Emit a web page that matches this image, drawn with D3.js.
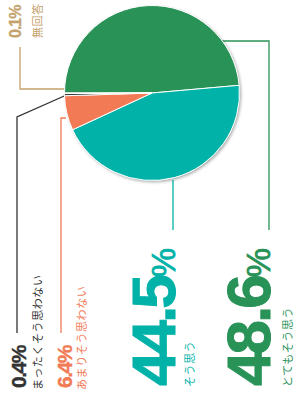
<!DOCTYPE html>
<html>
<head>
<meta charset="utf-8">
<script src="https://cdn.jsdelivr.net/npm/d3@7"></script>
<style>
body { margin: 0; background: #fff; }
svg { display: block; }
</style>
</head>
<body>
<div id="chart"></div>
<script>
var w = 295;
var h = 398;

// data
var categories = ["とてもそう思う", "そう思う", "あまりそう思わない", "まったくそう思わない", "無回答"];
var values = [48.6, 44.5, 6.4, 0.4, 0.1];
var valueLabels = ["48.6", "44.5", "6.4", "0.4", "0.1"];

var colour = d3.scaleOrdinal()
    .domain(categories)
    .range(["#289257", "#00b2a8", "#f27a55", "#333333", "#c4a26c"]);

// layout, in the sideways frame (x runs up the page, y runs right)
var layout = [
    { num: [12, 270], numSize: 62, pctSize: 33, pctStroke: 0.8, ls: -3, heavy: 1, lab: [11, 292], line: [[357, 222], [357, 269], [168, 269]] },
    { num: [12, 175], numSize: 62, pctSize: 33, pctStroke: 0.8, ls: -3, heavy: 1, lab: [11, 194], line: [[218, 173], [168, 173]] },
    { num: [10, 72], numSize: 21, pctSize: 21, pctStroke: 0, ls: -1.5, heavy: 0.4, lab: [8, 86], line: [[280, 66], [280, 61], [65, 61]] },
    { num: [10, 26], numSize: 21, pctSize: 21, pctStroke: 0, ls: -1.5, heavy: 0.4, lab: [8, 42], line: [[305, 71], [281, 17], [65, 17]] },
    { num: [360, 21], numSize: 16, pctSize: 16, pctStroke: 0, ls: -1, heavy: 0.3, lab: [360, 42], line: [[309, 66], [309, 20], [351, 20]] }
];

var cx = 305, cy = 152, radius = 87.5;

var svg = d3.select("#chart")
    .append("svg")
    .attr("width", w)
    .attr("height", h);

var defs = svg.append("defs");
var shadow = defs.append("filter")
    .attr("id", "pieShadow")
    .attr("x", "-20%").attr("y", "-20%")
    .attr("width", "140%").attr("height", "140%");
shadow.append("feDropShadow")
    .attr("dx", -1.5)
    .attr("dy", 1.5)
    .attr("stdDeviation", 1.5)
    .attr("flood-color", "#000")
    .attr("flood-opacity", 0.35);

// the whole chart is turned on its side
var g = svg.append("g")
    .attr("transform", "translate(0," + h + ") rotate(-90)");

var line = d3.line();

g.append("g")
    .attr("class", "leaders")
    .selectAll("path")
    .data(categories)
    .enter().append("path")
    .attr("d", function(d, i) { return line(layout[i].line); })
    .attr("fill", "none")
    .attr("stroke", function(d) { return colour(d); })
    .attr("stroke-width", 1.3);

var pie = d3.pie()
    .sort(null)
    .value(function(d) { return d; });

var arc = d3.arc()
    .innerRadius(0)
    .outerRadius(radius);

var pieG = g.append("g")
    .attr("transform", "translate(" + cx + "," + cy + ")");

pieG.append("circle")
    .attr("r", radius)
    .attr("fill", "#fff")
    .attr("filter", "url(#pieShadow)");

pieG.selectAll("path")
    .data(pie(values))
    .enter().append("path")
    .attr("d", arc)
    .attr("fill", function(d, i) { return colour(categories[i]); })
    .attr("stroke", "#fff")
    .attr("stroke-width", 1);

var labels = g.append("g").attr("class", "labels");

categories.forEach(function(cat, i) {
    var L = layout[i];
    var big = L.pctStroke > 0;
    var t = labels.append("text")
        .attr("x", L.num[0])
        .attr("y", L.num[1])
        .attr("fill", colour(cat))
        .style("font-family", "'Liberation Sans', Arial, sans-serif")
        .style("font-weight", "bold");
    t.append("tspan")
        .attr("stroke", colour(cat))
        .attr("stroke-width", L.heavy)
        .style("font-size", L.numSize + "px")
        .style("letter-spacing", L.ls + "px")
        .text(valueLabels[i]);
    t.append("tspan")
        .attr("stroke", colour(cat))
        .attr("stroke-width", big ? L.pctStroke : L.heavy)
        .style("font-size", L.pctSize + "px")
        .style("font-weight", big ? "normal" : "bold")
        .text("%");

    labels.append("text")
        .attr("x", L.lab[0])
        .attr("y", L.lab[1])
        .attr("fill", colour(cat))
        .style("font-family", "'Noto Sans CJK JP', sans-serif")
        .style("font-size", "11px")
        .style("letter-spacing", "0.6px")
        .text(cat);
});
</script>
</body>
</html>
